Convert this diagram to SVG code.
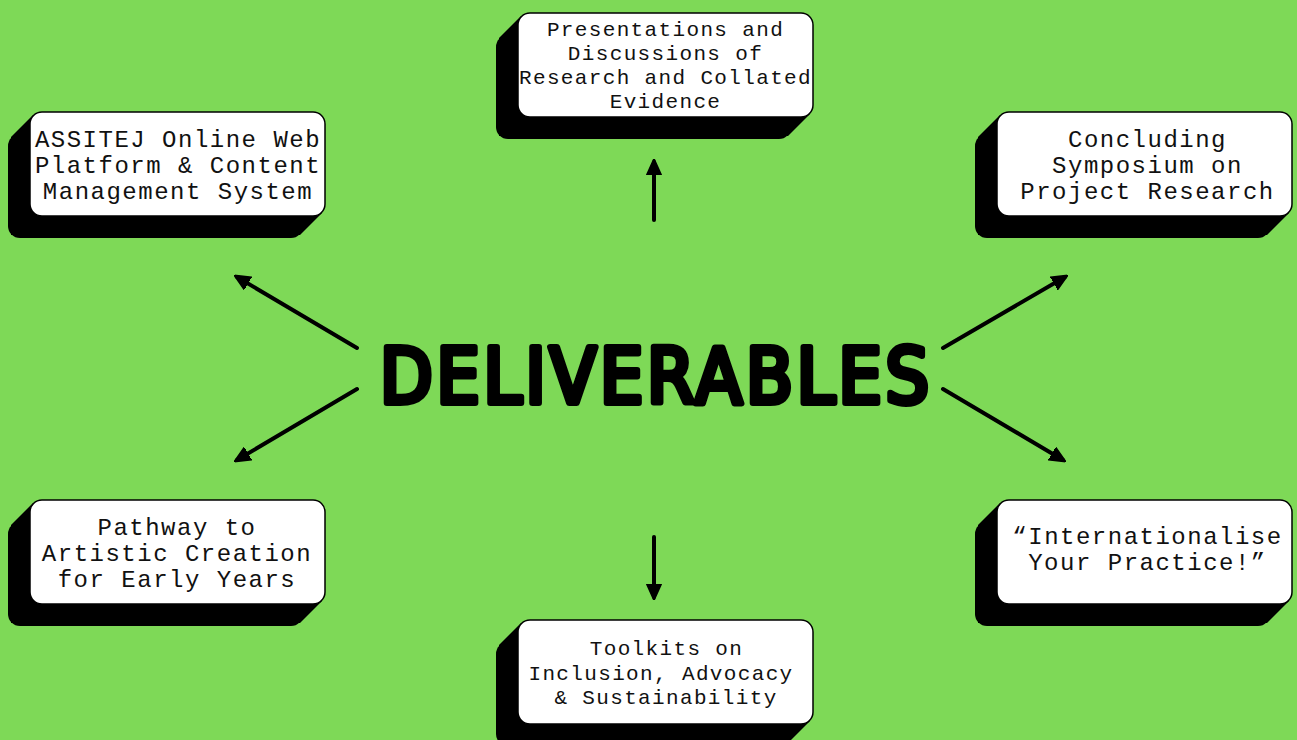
<svg xmlns="http://www.w3.org/2000/svg" xmlns:xlink="http://www.w3.org/1999/xlink" width="1297" height="740" viewBox="0 0 1297 740">
  <style>
    .lbl { font-family: "Liberation Mono", "DejaVu Sans Mono", monospace; fill: #111; text-anchor: middle; }
    .big { font-size: 24px; letter-spacing: 1.5px; }
    .small { font-size: 21px; letter-spacing: 1.35px; }
    .conn line { stroke: #000; stroke-width: 4; stroke-linecap: round; }
    .title { font-family: "DejaVu Sans Condensed", "DejaVu Sans", sans-serif; font-weight: normal; font-size: 76px; fill: #000; stroke: #000; stroke-width: 6; stroke-linejoin: round; stroke-linecap: round; }
  </style>
  <defs>
    <marker id="arr" viewBox="0 0 10 10" refX="8" refY="5" markerWidth="4" markerHeight="4" orient="auto" markerUnits="strokeWidth">
      <path d="M0,0.5 L10,5 L0,9.5 Z" fill="#000" stroke="#000" stroke-width="1" stroke-linejoin="round"/>
    </marker>
    <g id="box">
      <rect x="-22" y="22" width="295" height="104" rx="12" ry="12" fill="#000"/>
      <polygon points="3,3 292,3 292,101 270,123 -19,123 -19,25" fill="#000"/>
      <rect x="0" y="0" width="295" height="104" rx="12" ry="12" fill="#fff" stroke="#000" stroke-width="1.5"/>
    </g>
  </defs>
  <rect x="0" y="0" width="1297" height="740" fill="#7ED957"/>

  <g id="connectors" class="conn">
    <line x1="654" y1="220" x2="654" y2="162" marker-end="url(#arr)"/>
    <line x1="654" y1="537" x2="654" y2="597" marker-end="url(#arr)"/>
    <line x1="357" y1="348" x2="237" y2="277" marker-end="url(#arr)"/>
    <line x1="357" y1="389" x2="237" y2="460" marker-end="url(#arr)"/>
    <line x1="943" y1="348" x2="1065" y2="277" marker-end="url(#arr)"/>
    <line x1="943" y1="389" x2="1063" y2="460" marker-end="url(#arr)"/>
  </g>

  <g id="node-center">
    <text class="title" x="380" y="403" textLength="549" lengthAdjust="spacing">DELIVERABLES</text>
  </g>

  <g id="node-assitej">
    <use xlink:href="#box" href="#box" x="30" y="112"/>
    <text class="lbl big" x="178" y="147">ASSITEJ Online Web</text>
    <text class="lbl big" x="178" y="173">Platform &amp; Content</text>
    <text class="lbl big" x="178" y="199">Management System</text>
  </g>

  <g id="node-presentations">
    <use xlink:href="#box" href="#box" x="518" y="13"/>
    <text class="lbl small" x="665.5" y="36">Presentations and</text>
    <text class="lbl small" x="665.5" y="60">Discussions of</text>
    <text class="lbl small" x="665.5" y="84">Research and Collated</text>
    <text class="lbl small" x="665.5" y="108">Evidence</text>
  </g>

  <g id="node-concluding">
    <use xlink:href="#box" href="#box" x="997" y="112"/>
    <text class="lbl big" x="1147.5" y="147">Concluding</text>
    <text class="lbl big" x="1147.5" y="173">Symposium on</text>
    <text class="lbl big" x="1147.5" y="199">Project Research</text>
  </g>

  <g id="node-pathway">
    <use xlink:href="#box" href="#box" x="30" y="500"/>
    <text class="lbl big" x="177" y="535">Pathway to</text>
    <text class="lbl big" x="177" y="561">Artistic Creation</text>
    <text class="lbl big" x="177" y="587">for Early Years</text>
  </g>

  <g id="node-internationalise">
    <use xlink:href="#box" href="#box" x="997" y="500"/>
    <text class="lbl big" x="1147.5" y="544">“Internationalise</text>
    <text class="lbl big" x="1147.5" y="570">Your Practice!”</text>
  </g>

  <g id="node-toolkits">
    <use xlink:href="#box" href="#box" x="518" y="620"/>
    <text class="lbl small" x="666.5" y="655">Toolkits on</text>
    <text class="lbl small" x="661" y="680">Inclusion, Advocacy</text>
    <text class="lbl small" x="666" y="704">&amp; Sustainability</text>
  </g>
</svg>
